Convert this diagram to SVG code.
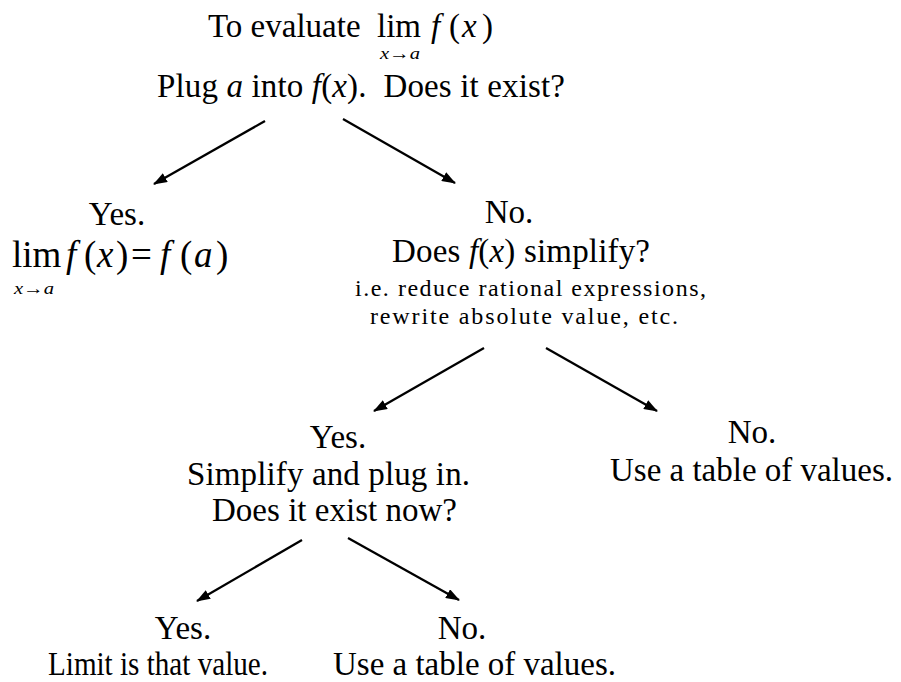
<svg xmlns="http://www.w3.org/2000/svg" width="901" height="682" viewBox="0 0 901 682" font-family="'Liberation Serif', 'Times New Roman', 'DejaVu Serif', serif">
<defs>
<marker id="ah" viewBox="0 0 14 10" refX="13" refY="5" markerWidth="14" markerHeight="10" markerUnits="userSpaceOnUse" orient="auto"><path d="M0,0 L14,5 L0,10 z" fill="#000"/></marker>
</defs>
<style>
text{fill:#000;white-space:pre}
.m{font-size:33px}
.s{font-size:24px}
.i{font-style:italic}
.sub{font-size:17px;font-style:italic}
.c{text-anchor:middle}
.conn line{stroke:#000;stroke-width:2.3;marker-end:url(#ah)}
</style>
<rect width="901" height="682" fill="#fff"/>
<g id="start">
<text x="208" y="37" class="m">To evaluate</text>
<text x="377" y="37" class="m">lim</text>
<text x="380" y="59" class="sub" textLength="40" lengthAdjust="spacingAndGlyphs">x→a</text>
<text y="37" class="m"><tspan x="431" class="i">f</tspan><tspan x="449">(</tspan><tspan x="462" class="i">x</tspan><tspan x="482">)</tspan></text>
<text x="157" y="97" class="m" textLength="408" lengthAdjust="spacing">Plug <tspan class="i">a</tspan> into <tspan class="i">f</tspan>(<tspan class="i">x</tspan>).  Does it exist?</text>
</g>
<g id="yes1">
<text x="117" y="225" class="m c">Yes.</text>
<text x="12" y="267" style="font-size:37px">lim</text>
<text x="14" y="294" class="sub" textLength="40" lengthAdjust="spacingAndGlyphs">x→a</text>
<text y="267" style="font-size:37px"><tspan x="66" class="i">f</tspan><tspan x="84">(</tspan><tspan x="97" class="i">x</tspan><tspan x="116">)</tspan><tspan x="131">=</tspan><tspan x="160" class="i">f</tspan><tspan x="180">(</tspan><tspan x="194" class="i">a</tspan><tspan x="216">)</tspan></text>
</g>
<g id="no1">
<text x="509" y="223" class="m c">No.</text>
<text x="392" y="262" class="m" textLength="258" lengthAdjust="spacing">Does <tspan class="i">f</tspan>(<tspan class="i">x</tspan>) simplify?</text>
<text x="355" y="296" class="s" textLength="351" lengthAdjust="spacing">i.e. reduce rational expressions,</text>
<text x="370" y="324" class="s" textLength="308" lengthAdjust="spacing">rewrite absolute value, etc.</text>
</g>
<g id="yes2">
<text x="338" y="448" class="m c">Yes.</text>
<text x="187" y="485" class="m" textLength="283" lengthAdjust="spacing">Simplify and plug in.</text>
<text x="212" y="521" class="m" textLength="245" lengthAdjust="spacing">Does it exist now?</text>
</g>
<g id="no2">
<text x="752" y="443" class="m c">No.</text>
<text x="610" y="481" class="m" textLength="283" lengthAdjust="spacing">Use a table of values.</text>
</g>
<g id="yes3">
<text x="183" y="639" class="m c">Yes.</text>
<text x="48" y="675" class="m" textLength="220" lengthAdjust="spacingAndGlyphs">Limit is that value.</text>
</g>
<g id="no3">
<text x="462" y="639" class="m c">No.</text>
<text x="333" y="675" class="m" textLength="283" lengthAdjust="spacing">Use a table of values.</text>
</g>
<g id="connectors" class="conn">
<line x1="265" y1="121" x2="154" y2="184"/>
<line x1="343" y1="119" x2="455" y2="183"/>
<line x1="484" y1="348" x2="374" y2="411"/>
<line x1="546" y1="348" x2="657" y2="411"/>
<line x1="302" y1="540" x2="197" y2="601"/>
<line x1="348" y1="538" x2="459" y2="600"/>
</g>
</svg>
